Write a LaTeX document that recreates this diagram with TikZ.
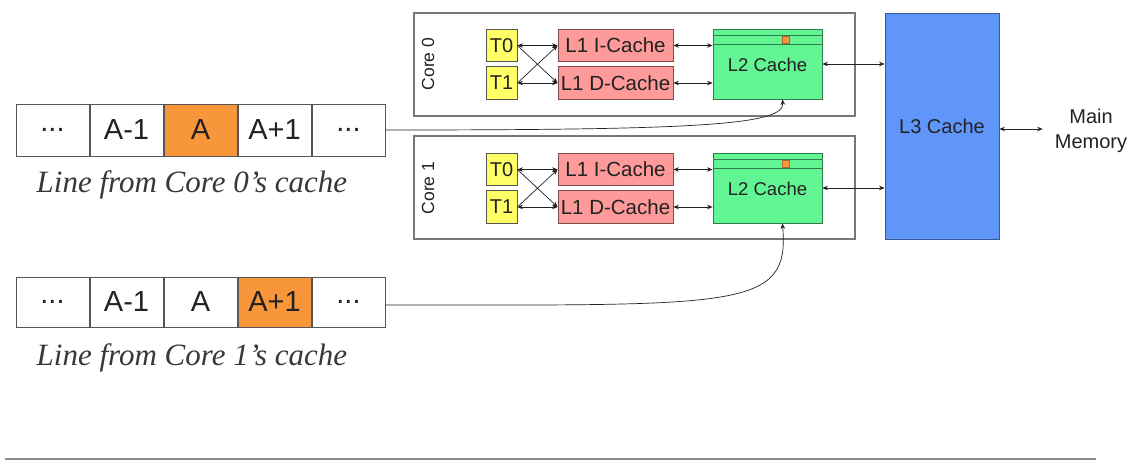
\documentclass[tikz,border=0pt]{standalone}
\usepackage{fontspec}
\newfontfamily\arial{Liberation Sans}
\newfontfamily\timesit{Liberation Serif}
\usetikzlibrary{arrows.meta,calc}
\definecolor{tyellow}{HTML}{FFFF66}
\definecolor{lpink}{HTML}{FF9A9A}
\definecolor{lgreen}{HTML}{62F594}
\definecolor{lblue}{HTML}{6096FA}
\definecolor{corange}{HTML}{F7963A}
\definecolor{txt}{HTML}{222222}
\definecolor{edge}{HTML}{555555}
\begin{document}
\begin{tikzpicture}[x=1pt,y=-1pt,
  box/.style={draw=edge,line width=0.8pt,inner sep=0pt,text=txt,font=\arial},
  corebox/.style={draw=edge!80,line width=1.2pt,inner sep=0pt,minimum width=441pt,minimum height=103pt},
  tbox/.style={box,fill=tyellow,minimum width=31pt,minimum height=32.5pt,font=\arial\fontsize{20}{22}\selectfont},
  lbox/.style={box,fill=lpink,draw=lpink!50!black,minimum width=115pt,minimum height=32.5pt,font=\arial\fontsize{20.5}{22}\selectfont},
  ltwo/.style={box,fill=lgreen,draw=lgreen!50!black,minimum width=109pt,minimum height=70pt,font=\arial\fontsize{18.5}{20}\selectfont},
  cell/.style={draw=edge,line width=1pt,inner sep=0pt,minimum width=73pt,text=txt,font=\arial\fontsize{29}{31}\selectfont},
  captext/.style={inner sep=0pt,text=txt!90,font=\timesit\itshape\fontsize{31}{33}\selectfont},
  conn/.style={draw=txt,line width=0.7pt,{Stealth[length=5.5pt,width=4.5pt]}-{Stealth[length=5.5pt,width=4.5pt]}},
  oneway/.style={draw=txt,line width=0.7pt,-{Stealth[length=5.5pt,width=4.5pt]}},
  corelabel/.style={inner sep=0pt,rotate=90,text=txt,font=\arial\fontsize{17.5}{19}\selectfont}]
\useasboundingbox (0,0) rectangle (1129,469);

% core boxes
\node[corebox] (core0) at (634.5,64.5) {};
\node[corebox] (core1) at (634.5,187.5) {};
\node[corelabel] (core0lab) at (428,64) {Core 0};
\node[corelabel] (core1lab) at (428,188) {Core 1};

% core 0 contents
\node[tbox] (T0a) at (501.5,45.5) {T0};
\node[tbox] (T1a) at (501.5,83) {T1};
\node[lbox] (L1Ia) at (615.5,45.5) {L1 I-Cache};
\node[lbox] (L1Da) at (615.5,83) {L1 D-Cache};
\node[ltwo] (L2a) at (767.5,64) {};
\node[inner sep=0pt,text=txt,font=\arial\fontsize{18.5}{20}\selectfont] (L2alab) at (767.5,65) {L2 Cache};

% core 1 contents
\node[tbox] (T0b) at (501.5,169.5) {T0};
\node[tbox] (T1b) at (501.5,207) {T1};
\node[lbox] (L1Ib) at (615.5,169.5) {L1 I-Cache};
\node[lbox] (L1Db) at (615.5,207) {L1 D-Cache};
\node[ltwo] (L2b) at (767.5,188) {};
\node[inner sep=0pt,text=txt,font=\arial\fontsize{18.5}{20}\selectfont] (L2blab) at (767.5,189) {L2 Cache};

% L2 stripes and marked line
\foreach \c in {L2a,L2b}{
  \draw[lgreen!50!black,line width=0.8pt] ($(\c.north west)+(0,6.5)$) -- ($(\c.north east)+(0,6.5)$);
  \draw[lgreen!50!black,line width=0.8pt] ($(\c.north west)+(0,15.5)$) -- ($(\c.north east)+(0,15.5)$);
  \draw[fill=corange,draw=corange!70!black,line width=0.5pt] ($(\c.north east)+(-40,8)$) rectangle ($(\c.north east)+(-33,15)$);
}

% L3 and memory
\node[box,fill=lblue,draw=lblue!60!black,minimum width=114pt,minimum height=226pt,font=\arial\fontsize{20}{22}\selectfont] (L3) at (942,126) {L3 Cache};
\node[inner sep=0pt,align=center,text=txt,font=\arial\fontsize{20}{25}\selectfont] (mem) at (1091,131) {Main\\Memory};

% arrows inside cores
\foreach \s in {a,b}{
  \draw[conn] (T0\s.east) -- (L1I\s.west);
  \draw[conn] (T1\s.east) -- (L1D\s.west);
  \draw[oneway] (T0\s.east) -- (L1D\s.west);
  \draw[oneway] (T1\s.east) -- (L1I\s.west);
  \draw[conn] (L1I\s.east) -- (L1I\s.east -| L2\s.west);
  \draw[conn] (L1D\s.east) -- (L1D\s.east -| L2\s.west);
  \draw[conn] (L2\s.east) -- (L2\s.east -| L3.west);
}
\coordinate (memin) at ([xshift=-12pt,yshift=2pt]mem.west);
\draw[conn] (L3.east |- memin) -- (memin);

% cache lines
\node[cell,minimum height=52pt] (l0c1) at (52.5,130) {...};
\node[cell,minimum height=52pt,anchor=west] (l0c2) at (l0c1.east) {A-1};
\node[cell,minimum height=52pt,anchor=west,fill=corange] (l0c3) at (l0c2.east) {A};
\node[cell,minimum height=52pt,anchor=west] (l0c4) at (l0c3.east) {A+1};
\node[cell,minimum height=52pt,anchor=west] (l0c5) at (l0c4.east) {...};
\node[captext] (cap0) at (192,185) {Line from Core 0’s cache};

\node[cell,minimum height=50pt] (l1c1) at (52.5,302) {...};
\node[cell,minimum height=50pt,anchor=west] (l1c2) at (l1c1.east) {A-1};
\node[cell,minimum height=50pt,anchor=west] (l1c3) at (l1c2.east) {A};
\node[cell,minimum height=50pt,anchor=west,fill=corange] (l1c4) at (l1c3.east) {A+1};
\node[cell,minimum height=50pt,anchor=west] (l1c5) at (l1c4.east) {...};
\node[captext] (cap1) at (192,358) {Line from Core 1’s cache};

% connectors to L2
\coordinate (t0) at ([xshift=-40pt]L2a.south east);
\coordinate (t1) at ([xshift=-40pt]L2b.south east);
\draw[oneway] (l0c5.east) .. controls (700,130) and (785,125) .. (t0);
\draw[oneway] (l1c5.east |- 0,305) .. controls (740,305) and (790,310) .. (t1);

% bottom rule
\coordinate (r0) at (5,459);
\coordinate (r1) at (1096,459);
\draw[gray!90,line width=2pt] (r0) -- (r1);
\end{tikzpicture}
\end{document}
